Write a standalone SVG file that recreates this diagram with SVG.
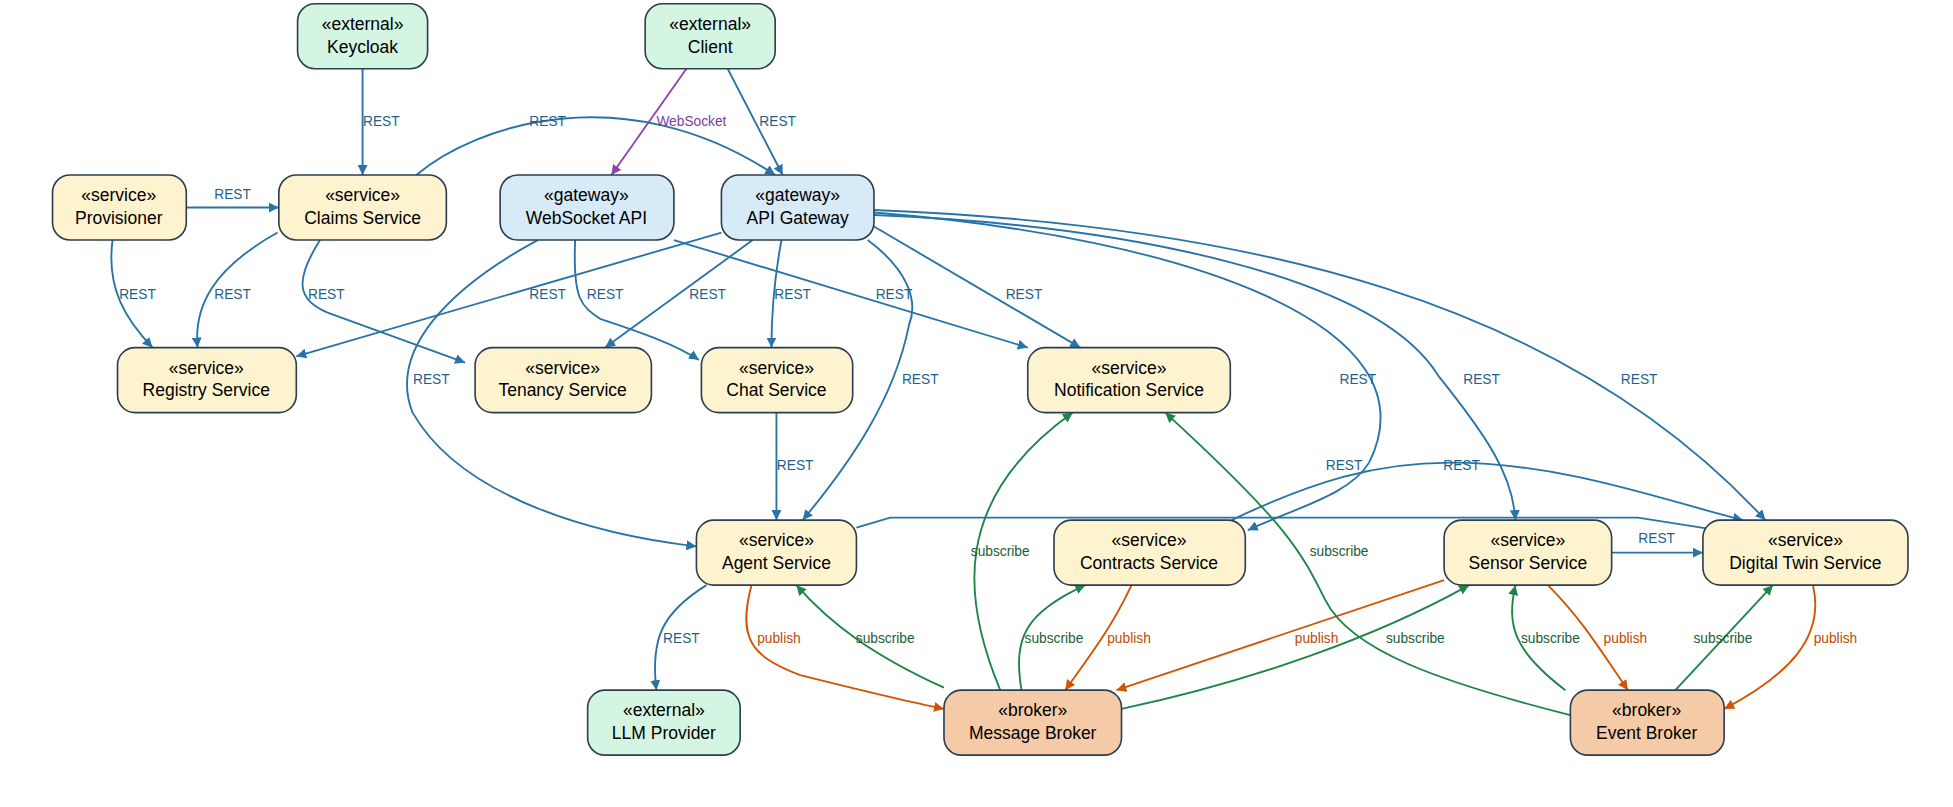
<svg xmlns="http://www.w3.org/2000/svg" width="1953" height="807" viewBox="0 0 1953 807">
<style>
.n rect{stroke:#2c3e50;stroke-width:1.3}
.ext rect{fill:#d5f5e3}.svc rect{fill:#fdf3cf}.gw rect{fill:#d6eaf8}.br rect{fill:#f5cba7}
.n text{font-family:"Liberation Sans",Arial,sans-serif;font-size:14px;fill:#000;text-anchor:middle}
.e path{fill:none;stroke-width:1.5}
.b{stroke:#2874a6}.g{stroke:#1e8449}.o{stroke:#d35400}.p{stroke:#8e44ad}
.l text{font-family:"Liberation Sans",Arial,sans-serif;font-size:11px;text-anchor:middle}
.lb{fill:#1f5f8b}.lg{fill:#1a5e34}.lo{fill:#c04a00}.lp{fill:#7d3c98}
</style>
<defs>
<marker id="ab" viewBox="0 0 10 10" refX="10" refY="5" markerWidth="8" markerHeight="8" orient="auto" markerUnits="userSpaceOnUse"><path d="M0,0L10,5L0,10z" fill="#2874a6"/></marker>
<marker id="ag" viewBox="0 0 10 10" refX="10" refY="5" markerWidth="8" markerHeight="8" orient="auto" markerUnits="userSpaceOnUse"><path d="M0,0L10,5L0,10z" fill="#1e8449"/></marker>
<marker id="ao" viewBox="0 0 10 10" refX="10" refY="5" markerWidth="8" markerHeight="8" orient="auto" markerUnits="userSpaceOnUse"><path d="M0,0L10,5L0,10z" fill="#d35400"/></marker>
<marker id="ap" viewBox="0 0 10 10" refX="10" refY="5" markerWidth="8" markerHeight="8" orient="auto" markerUnits="userSpaceOnUse"><path d="M0,0L10,5L0,10z" fill="#8e44ad"/></marker>
</defs>
<rect width="1953" height="807" fill="#fff"/>
<g transform="scale(1.2503)">
<g id="connectors" class="e">
<path class="b" marker-end="url(#ab)" d="M290,55L290,140"/>
<path class="p" marker-end="url(#ap)" d="M549,55L489,140"/>
<path class="b" marker-end="url(#ab)" d="M582,55L626,140"/>
<path class="b" marker-end="url(#ab)" d="M333,140C380,100 500,60 620,140"/>
<path class="b" marker-end="url(#ab)" d="M149,166L223,166"/>
<path class="b" marker-end="url(#ab)" d="M90,192C85,230 100,255 122,278"/>
<path class="b" marker-end="url(#ab)" d="M222,186C170,215 155,245 158,278"/>
<path class="b" marker-end="url(#ab)" d="M256,192C235,225 238,240 262,250L372,290"/>
<path class="b" marker-end="url(#ab)" d="M430,192C360,230 310,280 330,330C370,400 480,428 557,437"/>
<path class="b" marker-end="url(#ab)" d="M460,192C458,240 465,245 480,255C510,265 540,275 559,288"/>
<path class="b" marker-end="url(#ab)" d="M539,192L822,278"/>
<path class="b" marker-end="url(#ab)" d="M577,186L237,285"/>
<path class="b" marker-end="url(#ab)" d="M602,192L484,278"/>
<path class="b" marker-end="url(#ab)" d="M625,192C618,230 617,260 617,278"/>
<path class="b" marker-end="url(#ab)" d="M694,192C725,215 735,240 727,260C715,320 680,370 642,416"/>
<path class="b" marker-end="url(#ab)" d="M697,180L864,278"/>
<path class="b" marker-end="url(#ab)" d="M699,170C950,190 1150,260 1095,370C1080,395 1040,405 998,424"/>
<path class="b" marker-end="url(#ab)" d="M699,172C900,180 1100,220 1150,300C1190,350 1210,380 1212,416"/>
<path class="b" marker-end="url(#ab)" d="M699,168C1000,180 1250,240 1412,416"/>
<path class="b" marker-end="url(#ab)" d="M985,416C1050,385 1100,370 1160,370C1250,370 1330,400 1394,416"/>
<path class="b" marker-end="url(#ab)" d="M685,422L712,414L1310,414L1380,425"/>
<path class="b" marker-end="url(#ab)" d="M1289,442L1362,442"/>
<path class="b" marker-end="url(#ab)" d="M621,330L621,416"/>
<path class="b" marker-end="url(#ab)" d="M565,468C530,490 520,510 525,552"/>
<path class="o" marker-end="url(#ao)" d="M601,468C590,510 600,525 640,540C700,555 720,560 755,567"/>
<path class="g" marker-end="url(#ag)" d="M755,550C700,525 665,500 637,468"/>
<path class="g" marker-end="url(#ag)" d="M800,552C770,480 760,400 858,330"/>
<path class="g" marker-end="url(#ag)" d="M817,552C810,510 820,490 868,468"/>
<path class="o" marker-end="url(#ao)" d="M905,468C890,500 875,520 852,552"/>
<path class="o" marker-end="url(#ao)" d="M1155,464L893,552"/>
<path class="g" marker-end="url(#ag)" d="M897,567C1000,545 1100,510 1175,468"/>
<path class="g" marker-end="url(#ag)" d="M1256,572C1150,545 1080,520 1060,480C1040,440 1030,420 932,330"/>
<path class="g" marker-end="url(#ag)" d="M1252,552C1210,520 1205,500 1212,468"/>
<path class="o" marker-end="url(#ao)" d="M1238,468C1265,495 1280,520 1302,552"/>
<path class="g" marker-end="url(#ag)" d="M1340,552L1418,468"/>
<path class="o" marker-end="url(#ao)" d="M1450,468C1460,510 1430,540 1379,567"/>
</g>
<g id="labels" class="l">
<text class="lb" x="305" y="101">REST</text>
<text class="lp" x="553" y="101">WebSocket</text>
<text class="lb" x="622" y="101">REST</text>
<text class="lb" x="438" y="101">REST</text>
<text class="lb" x="186" y="159">REST</text>
<text class="lb" x="110" y="239">REST</text>
<text class="lb" x="186" y="239">REST</text>
<text class="lb" x="261" y="239">REST</text>
<text class="lb" x="438" y="239">REST</text>
<text class="lb" x="484" y="239">REST</text>
<text class="lb" x="566" y="239">REST</text>
<text class="lb" x="634" y="239">REST</text>
<text class="lb" x="715" y="239">REST</text>
<text class="lb" x="819" y="239">REST</text>
<text class="lb" x="345" y="307">REST</text>
<text class="lb" x="736" y="307">REST</text>
<text class="lb" x="1086" y="307">REST</text>
<text class="lb" x="1185" y="307">REST</text>
<text class="lb" x="1311" y="307">REST</text>
<text class="lb" x="636" y="376">REST</text>
<text class="lb" x="1075" y="376">REST</text>
<text class="lb" x="1169" y="376">REST</text>
<text class="lb" x="1325" y="434">REST</text>
<text class="lg" x="800" y="445">subscribe</text>
<text class="lg" x="1071" y="445">subscribe</text>
<text class="lb" x="545" y="514">REST</text>
<text class="lo" x="623" y="514">publish</text>
<text class="lg" x="708" y="514">subscribe</text>
<text class="lg" x="843" y="514">subscribe</text>
<text class="lo" x="903" y="514">publish</text>
<text class="lo" x="1053" y="514">publish</text>
<text class="lg" x="1132" y="514">subscribe</text>
<text class="lg" x="1240" y="514">subscribe</text>
<text class="lo" x="1300" y="514">publish</text>
<text class="lg" x="1378" y="514">subscribe</text>
<text class="lo" x="1468" y="514">publish</text>
</g>
<g id="keycloak" class="n ext"><rect x="238" y="3" width="104" height="52" rx="14"/><text x="290" y="24">«external»</text><text x="290" y="42">Keycloak</text></g>
<g id="client" class="n ext"><rect x="516" y="3" width="104" height="52" rx="14"/><text x="568" y="24">«external»</text><text x="568" y="42">Client</text></g>
<g id="provisioner" class="n svc"><rect x="42" y="140" width="107" height="52" rx="14"/><text x="95" y="161">«service»</text><text x="95" y="179">Provisioner</text></g>
<g id="claims" class="n svc"><rect x="223" y="140" width="134" height="52" rx="14"/><text x="290" y="161">«service»</text><text x="290" y="179">Claims Service</text></g>
<g id="websocket" class="n gw"><rect x="400" y="140" width="139" height="52" rx="14"/><text x="469" y="161">«gateway»</text><text x="469" y="179">WebSocket API</text></g>
<g id="apigw" class="n gw"><rect x="577" y="140" width="122" height="52" rx="14"/><text x="638" y="161">«gateway»</text><text x="638" y="179">API Gateway</text></g>
<g id="registry" class="n svc"><rect x="94" y="278" width="143" height="52" rx="14"/><text x="165" y="299">«service»</text><text x="165" y="317">Registry Service</text></g>
<g id="tenancy" class="n svc"><rect x="380" y="278" width="141" height="52" rx="14"/><text x="450" y="299">«service»</text><text x="450" y="317">Tenancy Service</text></g>
<g id="chat" class="n svc"><rect x="561" y="278" width="121" height="52" rx="14"/><text x="621" y="299">«service»</text><text x="621" y="317">Chat Service</text></g>
<g id="notification" class="n svc"><rect x="822" y="278" width="162" height="52" rx="14"/><text x="903" y="299">«service»</text><text x="903" y="317">Notification Service</text></g>
<g id="agent" class="n svc"><rect x="557" y="416" width="128" height="52" rx="14"/><text x="621" y="437">«service»</text><text x="621" y="455">Agent Service</text></g>
<g id="contracts" class="n svc"><rect x="843" y="416" width="153" height="52" rx="14"/><text x="919" y="437">«service»</text><text x="919" y="455">Contracts Service</text></g>
<g id="sensor" class="n svc"><rect x="1155" y="416" width="134" height="52" rx="14"/><text x="1222" y="437">«service»</text><text x="1222" y="455">Sensor Service</text></g>
<g id="digitaltwin" class="n svc"><rect x="1362" y="416" width="164" height="52" rx="14"/><text x="1444" y="437">«service»</text><text x="1444" y="455">Digital Twin Service</text></g>
<g id="llm" class="n ext"><rect x="470" y="552" width="122" height="52" rx="14"/><text x="531" y="573">«external»</text><text x="531" y="591">LLM Provider</text></g>
<g id="msgbroker" class="n br"><rect x="755" y="552" width="142" height="52" rx="14"/><text x="826" y="573">«broker»</text><text x="826" y="591">Message Broker</text></g>
<g id="eventbroker" class="n br"><rect x="1256" y="552" width="123" height="52" rx="14"/><text x="1317" y="573">«broker»</text><text x="1317" y="591">Event Broker</text></g>
</g>
</svg>
